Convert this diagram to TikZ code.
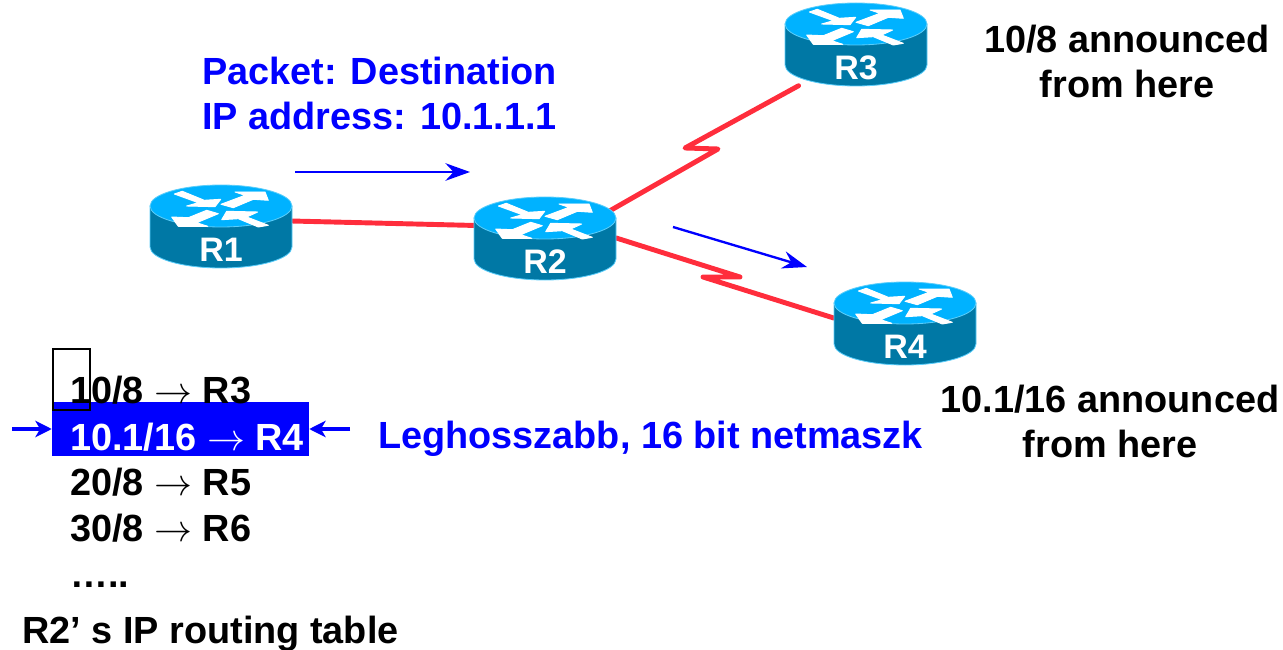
\documentclass[tikz,border=0pt]{standalone}
\usepackage{fontspec}
\setmainfont{Liberation Sans}
\usepackage{xcolor}
\usepackage{tikz}
\usetikzlibrary{positioning}
\usetikzlibrary{arrows.meta}
\pgfdeclarelayer{nodelayer}
\pgfdeclarelayer{edgelayer}
\pgfsetlayers{edgelayer,nodelayer,main}
\definecolor{routertop}{RGB}{0,178,255}
\definecolor{routerside}{RGB}{0,120,165}
\definecolor{routeredge}{RGB}{90,205,250}
\definecolor{linkred}{RGB}{255,45,60}
\newcommand{\toarrow}{\scalebox{1.3}{$\rightarrow$}}
\tikzset{
    none/.style = {inner sep=0pt},
    routerbox/.style = {inner sep=0pt, minimum width=4.26cm, minimum height=2.49cm},
    routertext/.style = {inner sep=0pt, text=white, font=\bfseries\fontsize{29}{29}\selectfont},
    lbl/.style = {inner sep=0pt, font=\bfseries\fontsize{32.3}{38.4}\selectfont},
    row/.style = {lbl, anchor=base west},
    link/.style = {linkred, line width=4.2pt, line join=round, line cap=round},
    flow/.style = {blue, line width=2pt, -{Stealth[length=21pt, width=15pt, inset=7pt]}},
    pointer/.style = {blue, line width=3.4pt, -{Stealth[length=14pt, width=14pt, inset=4pt]}},
    arrowshape/.style = {white, draw=white, line width=0.8pt, line join=round},
    routerbody/.pic = {
      \fill [routerside, draw=routeredge, line width=0.7pt] (-71,-20) -- (-71,21) arc [start angle=180, end angle=0, x radius=71, y radius=21] -- (71,-20) -- cycle;
      \fill [routertop, draw=routeredge, line width=0.7pt] (0,-20) ellipse [x radius=71, y radius=21];
      \fill [arrowshape] (-46.7,-32) -- (-38.7,-34.7) -- (-16.7,-25.7) -- (-0.3,-26.7) -- (-6,-19.3) -- (-34.3,-20) -- (-22.7,-23.3) -- cycle;
      \fill [arrowshape] (0,-21.7) -- (24,-30.7) -- (14,-34) -- (44,-34) -- (47.3,-25.7) -- (32.3,-26.7) -- (12.3,-18.3) -- cycle;
      \fill [arrowshape] (-14.3,-15.7) -- (-32.7,-8.3) -- (-49.3,-9) -- (-42.7,0.3) -- (-13.3,0.3) -- (-24.3,-3.3) -- (-2.7,-12.3) -- cycle;
      \fill [arrowshape] (47.3,-0.7) -- (25.7,-9) -- (36.7,-14) -- (5.7,-14.7) -- (0.7,-6.3) -- (17.3,-7.3) -- (37.3,1) -- cycle;
    }
}
\begin{document}
\begin{tikzpicture}[x=0.03cm, y=-0.03cm]
  \useasboundingbox (0,0) rectangle (1283,650);
  \begin{pgfonlayer}{nodelayer}
    \foreach \name/\pos in {R1/{221,226}, R2/{545,238}, R3/{856,44}, R4/{905,323}} {
      \pic at (\pos) {routerbody};
      \node [style=routerbox] (\name) at (\pos) {};
      \node [style=routertext, above=5pt of \name.south] (\name text) {\name};
    }
  \end{pgfonlayer}
  \begin{pgfonlayer}{edgelayer}
    \coordinate (port) at (592,221);
    \draw [link] (R1.4) to (R2.170);
    \draw [link] (port) -- (718,149) -- (685,148) -- (R3.216);
    \draw [link] (R2.east) -- (740,277) -- (703,277) -- (R4.176);
  \end{pgfonlayer}
  % traffic
  \coordinate (in0) at (295,172);
  \coordinate (in1) at (470,172);
  \coordinate (out0) at (673,227);
  \coordinate (out1) at (807,267);
  \draw [flow] (in0) to (in1);
  \draw [flow] (out0) to (out1);
  \node [style=lbl, align=left, anchor=west] (packet) at (202,93) {\textcolor{blue}{Packet: Destination}\\\textcolor{blue}{IP address: 10.1.1.1}};
  \node [style=lbl, align=center] (from3) at (1127,61) {10/8 announced\\from here};
  \node [style=lbl, align=center] (from4) at (1110,421) {10.1/16 announced\\from here};
  % routing table
  \node [fill=blue, inner sep=0pt, minimum width=7.71cm, minimum height=1.62cm] (band) at (180.5,429) {};
  \node [style=row] (t1) at (70,403) {10/8 \toarrow{} R3};
  \node [style=row, text=white] (t2) at (70,450) {10.1/16 \toarrow{} R4};
  \node [style=row] (t3) at (70,495) {20/8 \toarrow{} R5};
  \node [style=row] (t4) at (70,541) {30/8 \toarrow{} R6};
  \node [style=row] (t5) at (70,587) {\dots..};
  \node [style=row] (caption) at (22,643) {R2’ s IP routing table};
  \node [style=row, text=blue] (longest) at (378,448) {Leghosszabb, 16 bit netmaszk};
  \node [draw=black, line width=2.4pt, inner sep=0pt, minimum width=1.11cm, minimum height=1.83cm] (digit) at (71.5,379.5) {};
  \coordinate (left0) at (12,429);
  \coordinate (right0) at (350,429);
  \draw [pointer] (left0) to (band.west);
  \draw [pointer] (right0) to (band.east);
\end{tikzpicture}
\end{document}
